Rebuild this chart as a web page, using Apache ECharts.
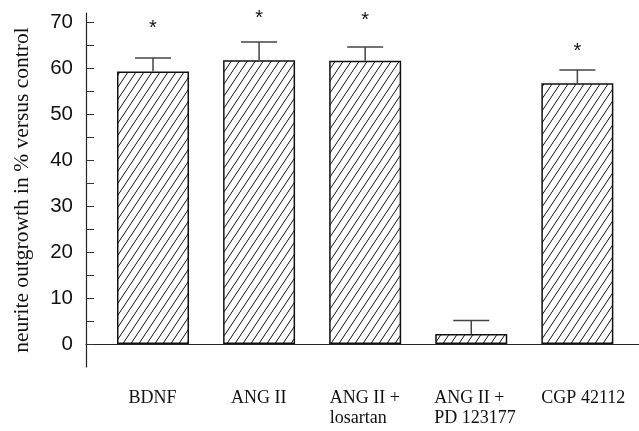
<!DOCTYPE html>
<html>
<head>
<meta charset="utf-8">
<script src="https://cdn.jsdelivr.net/npm/echarts@6/dist/echarts.min.js"></script>
<style>
html,body{margin:0;padding:0;background:#fff;}
#chart{width:639px;height:431px;}
</style>
</head>
<body>
<div id="chart"></div>
<script>
// ---- data ----
var categories = ['BDNF', 'ANG II', 'ANG II +\nlosartan', 'ANG II +\nPD 123177', 'CGP 42112'];
var means = [59.3, 61.7, 61.6, 2.2, 56.7];
var sem = [2.9, 4.0, 3.0, 2.9, 2.9];
var significant = [true, true, true, false, true];
var starLevel = [69.4, 71.6, 71.3, null, 64.4];
var yTicks = [0, 5, 10, 15, 20, 25, 30, 35, 40, 45, 50, 55, 60, 65, 70];
var yLabels = [0, 10, 20, 30, 40, 50, 60, 70];

// ---- hatch pattern ----
function makeHatch() {
  var W = 8, H = 12;
  var c = document.createElement('canvas');
  c.width = W; c.height = H;
  var ctx = c.getContext('2d');
  ctx.fillStyle = '#fff';
  ctx.fillRect(0, 0, W, H);
  ctx.strokeStyle = '#111';
  ctx.lineWidth = 1;
  for (var k = -1; k <= 1; k++) {
    ctx.beginPath();
    ctx.moveTo(-W + k * W, 2 * H);
    ctx.lineTo(2 * W + k * W, -H);
    ctx.stroke();
  }
  return c;
}

var serif = '"Liberation Serif", "DejaVu Serif", serif';
var sans = '"Liberation Sans", Arial, sans-serif';

// label styling: multi-line labels are left-aligned inside a block; small per-label nudges
var labelNudge = [0, 0, 0, 8, 12];
var mctx = document.createElement('canvas').getContext('2d');
mctx.font = '18px ' + serif;
var rich = {};
categories.forEach(function (c, i) {
  var w = 0;
  c.split('\n').forEach(function (l) { w = Math.max(w, mctx.measureText(l).width); });
  rich['c' + i] = {
    width: Math.ceil(w), align: 'left', fontFamily: serif, fontSize: 18, lineHeight: 20, color: '#111',
    padding: [0, 0, 0, labelNudge[i]]
  };
});

var barData = means.map(function (v, i) { return [i, v]; });
var errData = means.map(function (v, i) { return [i, v, v + sem[i]]; });
var starData = [];
significant.forEach(function (s, i) { if (s) starData.push([i, starLevel[i]]); });

var chart = echarts.init(document.getElementById('chart'), null, { renderer: 'canvas' });
chart.setOption({
  backgroundColor: '#fff',
  animation: false,
  grid: { left: 86, right: 0, top: 13, bottom: 64, containLabel: false, outerBoundsMode: 'none' },
  xAxis: {
    type: 'value',
    min: -0.6315,
    max: 4.581,
    splitLine: { show: false },
    axisTick: { show: false },
    axisLine: { show: true, onZero: true, lineStyle: { color: '#222', width: 1.2 } },
    axisLabel: {
      customValues: [0, 1, 2, 3, 4],
      margin: 21,
      formatter: function (v) {
        var i = Math.round(v);
        return categories[i].split('\n').map(function (l) { return '{c' + i + '|' + l + '}'; }).join('\n');
      },
      rich: rich
    }
  },
  yAxis: {
    type: 'value',
    min: -5,
    max: 72,
    name: 'neurite outgrowth in % versus control',
    nameLocation: 'middle',
    nameGap: 53,
    nameTextStyle: { fontFamily: serif, fontSize: 21.5, color: '#111' },
    splitLine: { show: false },
    axisLine: { show: true, onZero: false, lineStyle: { color: '#222', width: 1.2 } },
    axisTick: { show: true, inside: true, length: 8, customValues: yTicks, lineStyle: { color: '#333', width: 1 } },
    axisLabel: { customValues: yLabels, margin: 13, fontFamily: sans, fontSize: 20.5, color: '#111' }
  },
  series: [
    {
      type: 'bar',
      data: barData,
      barWidth: 72,
      itemStyle: {
        color: { image: makeHatch(), repeat: 'repeat' },
        borderColor: '#111',
        borderWidth: 1.5
      },
      z: 2
    },
    {
      type: 'custom',
      data: errData,
      z: 3,
      renderItem: function (params, api) {
        var x = api.value(0);
        var p0 = api.coord([x, api.value(1)]);
        var p1 = api.coord([x, api.value(2)]);
        var hw = 18;
        var st = { stroke: '#444', lineWidth: 1.5 };
        return {
          type: 'group',
          children: [
            { type: 'line', shape: { x1: p0[0], y1: p0[1], x2: p1[0], y2: p1[1] }, style: st },
            { type: 'line', shape: { x1: p1[0] - hw, y1: p1[1], x2: p1[0] + hw, y2: p1[1] }, style: st }
          ]
        };
      }
    },
    {
      type: 'custom',
      data: starData,
      z: 4,
      renderItem: function (params, api) {
        var p = api.coord([api.value(0), api.value(1)]);
        return {
          type: 'text',
          x: p[0],
          y: p[1] + 4,
          style: { text: '*', fontFamily: sans, fontSize: 20, fill: '#111', align: 'center', verticalAlign: 'middle' }
        };
      }
    }
  ]
});
</script>
</body>
</html>
